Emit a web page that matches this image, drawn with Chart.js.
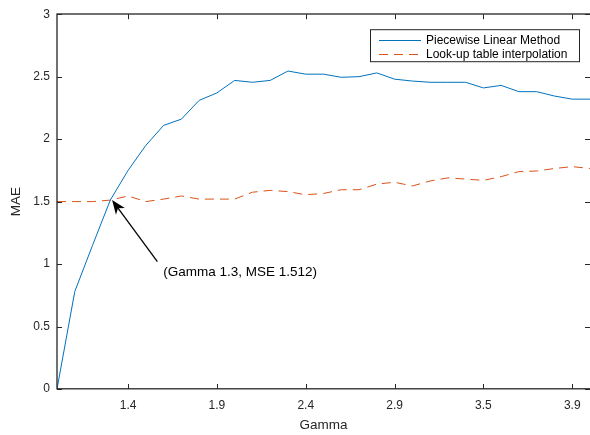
<!DOCTYPE html>
<html><head><meta charset="utf-8">
<script src="https://cdn.jsdelivr.net/npm/chart.js"></script>
<style>html,body{margin:0;padding:0;background:#fff;overflow:hidden}#wrap{width:590px;height:435px}canvas{display:block}</style>
</head><body>
<div id="wrap"><canvas id="c" width="590" height="435"></canvas></div>
<script>
const gamma = [1.0,1.1,1.2,1.3,1.4,1.5,1.6,1.7,1.8,1.9,2.0,2.1,2.2,2.3,2.4,2.5,2.6,2.7,2.8,2.9,3.0,3.1,3.2,3.3,3.4,3.5,3.6,3.7,3.8,3.9,4.0];
const piecewise = [0,0.78,1.15,1.512,1.75,1.95,2.11,2.16,2.31,2.37,2.47,2.455,2.47,2.545,2.52,2.52,2.495,2.50,2.53,2.48,2.465,2.455,2.455,2.455,2.41,2.43,2.38,2.38,2.345,2.32,2.32];
const lookup = [1.50,1.50,1.50,1.512,1.545,1.50,1.52,1.545,1.52,1.52,1.52,1.575,1.59,1.58,1.555,1.565,1.595,1.595,1.64,1.655,1.625,1.665,1.69,1.68,1.67,1.70,1.74,1.745,1.765,1.78,1.765];
const seriesNames = ['Piecewise Linear Method','Look-up table interpolation'];
const xTickValues = [1.4,1.9,2.4,2.9,3.4,3.9];
const xTickLabels = ['1.4','1.9','2.4','2.9','3.5','3.9'];
const yTickValues = [0,0.5,1,1.5,2,2.5,3];
const annotationText = '(Gamma 1.3, MSE 1.512)';
const annotationTip = [1.31, 1.512];
const annotationTail = [1.565, 1.02];
const annotationLabelAt = [1.598, 0.934];

const FONT = "'Liberation Sans', Arial, Helvetica, sans-serif";
const AX = '#262626';
const colors = ['#0072BD', '#D95319'];
const dashes = [[], [9, 6]];

const framePlugin = {
  id: 'frame',
  afterDatasetsDraw(chart) {
    const {ctx, chartArea: a, scales: {x, y}} = chart;
    ctx.save();
    ctx.strokeStyle = AX; ctx.lineWidth = 1.3;
    ctx.strokeRect(Math.round(a.left), Math.round(a.top), a.right - a.left + 2, a.bottom - a.top);
    ctx.beginPath();
    const tl = 5;
    xTickValues.forEach(v => {
      const px = Math.round(x.getPixelForValue(v)) + 0.5;
      ctx.moveTo(px, a.bottom); ctx.lineTo(px, a.bottom - tl);
      ctx.moveTo(px, a.top); ctx.lineTo(px, a.top + tl);
    });
    yTickValues.forEach(v => {
      const py = Math.round(y.getPixelForValue(v)) + 0.5;
      ctx.moveTo(a.left, py); ctx.lineTo(a.left + tl, py);
      ctx.moveTo(a.right, py); ctx.lineTo(a.right - tl, py);
    });
    ctx.lineWidth = 1;
    ctx.stroke();

    // annotation arrow
    const tip = [x.getPixelForValue(annotationTip[0]), y.getPixelForValue(annotationTip[1])];
    const tail = [x.getPixelForValue(annotationTail[0]), y.getPixelForValue(annotationTail[1])];
    const dx = tip[0] - tail[0], dy = tip[1] - tail[1];
    const len = Math.hypot(dx, dy);
    const ux = dx / len, uy = dy / len;
    const px = -uy, py = ux;
    const hl = 14, hw = 5.5, notch = 10;
    ctx.strokeStyle = '#000'; ctx.fillStyle = '#000'; ctx.lineWidth = 1.3;
    ctx.beginPath();
    ctx.moveTo(tail[0], tail[1]);
    ctx.lineTo(tip[0] - ux * notch, tip[1] - uy * notch);
    ctx.stroke();
    ctx.beginPath();
    ctx.moveTo(tip[0], tip[1]);
    ctx.lineTo(tip[0] - ux * hl + px * hw, tip[1] - uy * hl + py * hw);
    ctx.lineTo(tip[0] - ux * notch, tip[1] - uy * notch);
    ctx.lineTo(tip[0] - ux * hl - px * hw, tip[1] - uy * hl - py * hw);
    ctx.closePath();
    ctx.fill();
    ctx.font = '13.5px ' + FONT;
    ctx.fillStyle = '#000';
    ctx.textAlign = 'left'; ctx.textBaseline = 'middle';
    ctx.fillText(annotationText, x.getPixelForValue(annotationLabelAt[0]), y.getPixelForValue(annotationLabelAt[1]));

    // legend
    const bx = a.right - 219.5, by = a.top + 15.5, bw = 209, bh = 32;
    ctx.fillStyle = '#fff';
    ctx.fillRect(bx, by, bw, bh);
    ctx.strokeStyle = AX; ctx.lineWidth = 1;
    ctx.strokeRect(bx, by, bw, bh);
    ctx.font = '12px ' + FONT;
    ctx.textBaseline = 'middle';
    chart.data.datasets.forEach((ds, i) => {
      const ry = by + 10.5 + i * 14;
      ctx.strokeStyle = ds.borderColor; ctx.lineWidth = 1;
      ctx.setLineDash(ds.borderDash || []);
      ctx.beginPath(); ctx.moveTo(bx + 8.5, Math.round(ry) + 0.5); ctx.lineTo(bx + 50.5, Math.round(ry) + 0.5); ctx.stroke();
      ctx.setLineDash([]);
      ctx.fillStyle = '#000';
      ctx.fillText(ds.label, bx + 55.5, ry + 0.5);
    });
    ctx.restore();
  }
};

new Chart(document.getElementById('c'), {
  type: 'line',
  data: {
    datasets: [piecewise, lookup].map((vals, i) => ({
      label: seriesNames[i],
      data: gamma.map((g, j) => ({x: g, y: vals[j]})),
      borderColor: colors[i],
      borderWidth: 1,
      borderDash: dashes[i],
      pointRadius: 0,
      tension: 0,
      fill: false
    }))
  },
  options: {
    responsive: false,
    animation: false,
    devicePixelRatio: 1,
    layout: {padding: {top: 9, right: 0, left: 0, bottom: 0}},
    plugins: {legend: {display: false}, tooltip: {enabled: false}, title: {display: false}},
    scales: {
      x: {
        type: 'linear', min: gamma[0], max: gamma[gamma.length - 1],
        afterBuildTicks: s => { s.ticks = xTickValues.map(v => ({value: v})); },
        afterFit: s => { s.height = 46; },
        ticks: {callback: (v, i) => xTickLabels[i], font: {family: FONT, size: 12}, color: AX, padding: 9, maxRotation: 0, autoSkip: false},
        grid: {display: false, drawTicks: false},
        border: {display: false},
        title: {display: true, text: 'Gamma', color: AX, font: {family: FONT, size: 13.5}, padding: {top: 0, bottom: 2}}
      },
      y: {
        type: 'linear', min: 0, max: 3,
        afterBuildTicks: s => { s.ticks = yTickValues.map(v => ({value: v})); },
        afterFit: s => { s.width = 57; },
        ticks: {callback: v => String(v), font: {family: FONT, size: 12}, color: AX, padding: 7},
        grid: {display: false, drawTicks: false},
        border: {display: false},
        title: {display: true, text: 'MAE', color: AX, font: {family: FONT, size: 13.5}, padding: {top: 8, bottom: 0}}
      }
    }
  },
  plugins: [framePlugin]
});
</script>
</body></html>
